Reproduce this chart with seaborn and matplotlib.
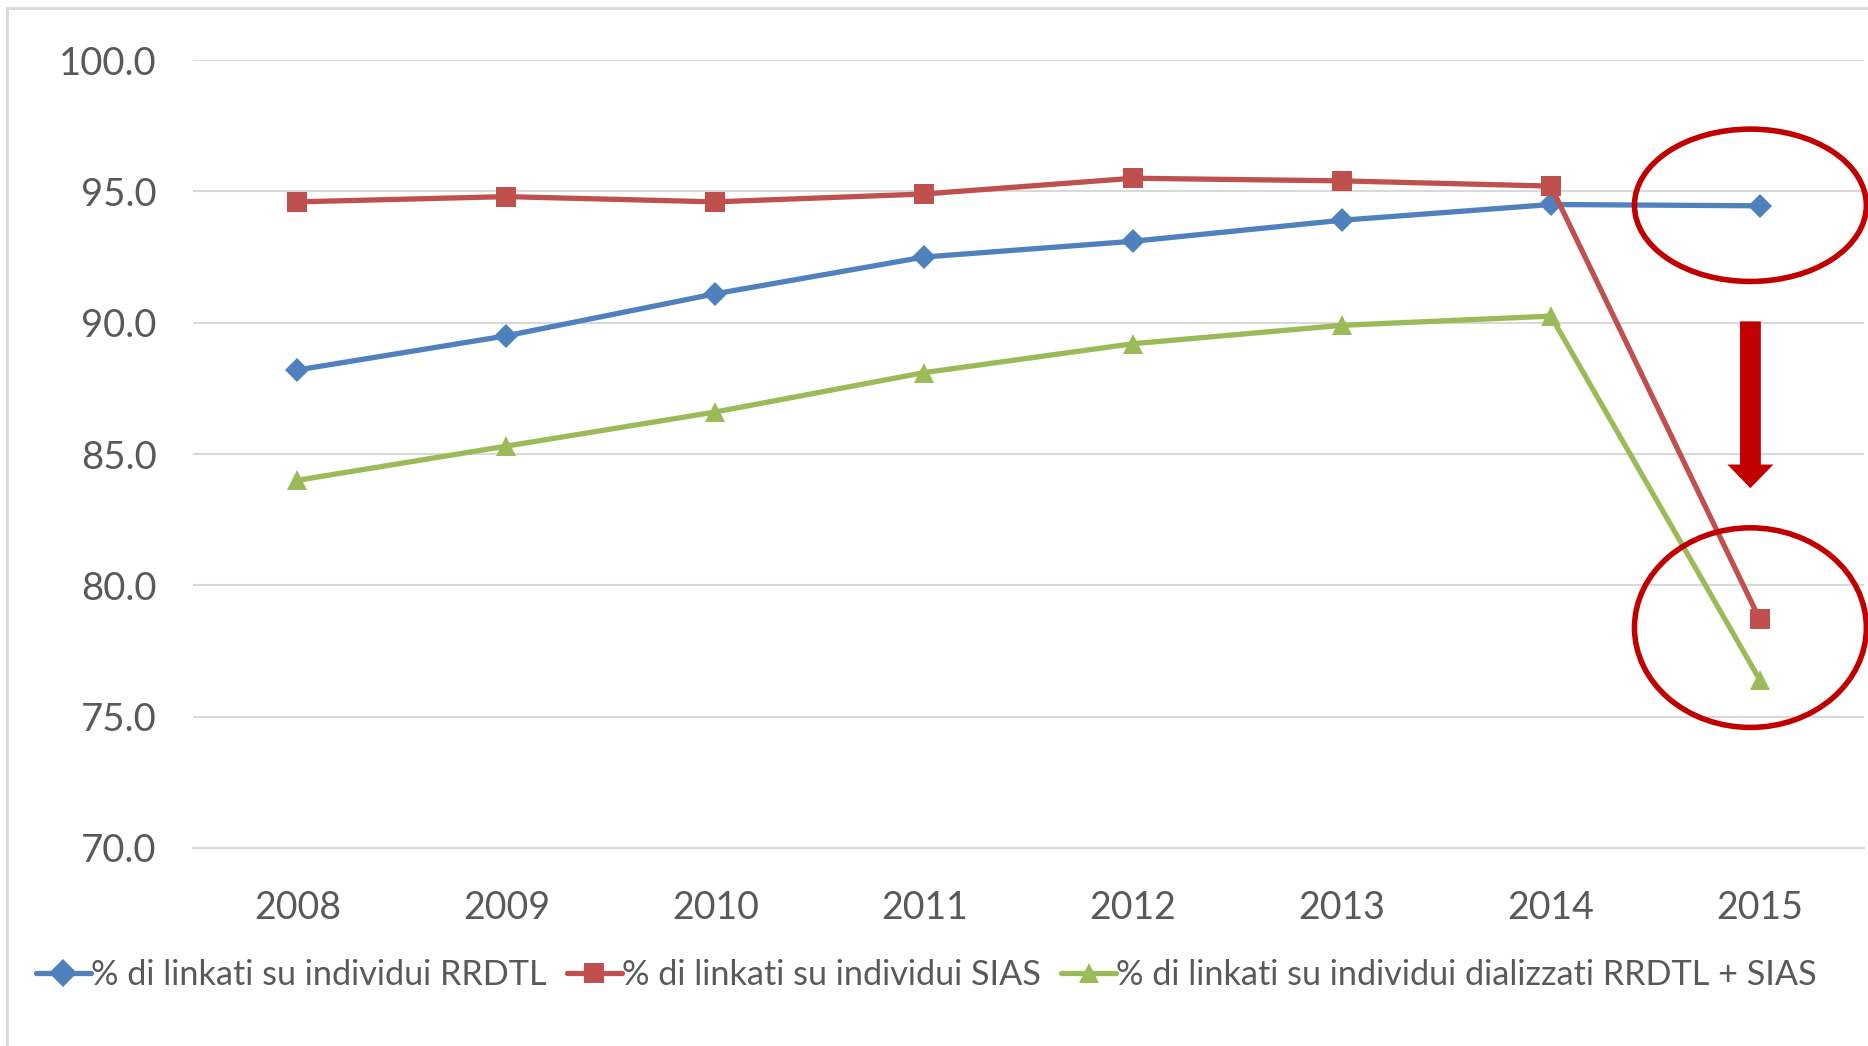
import pandas as pd
import matplotlib.pyplot as plt
import seaborn as sns
from matplotlib.patches import Ellipse, Rectangle, FancyArrow

# --- data ---
years = [2008, 2009, 2010, 2011, 2012, 2013, 2014, 2015]
rrdtl = [88.2, 89.5, 91.1, 92.5, 93.1, 93.9, 94.5, 94.45]
sias = [94.6, 94.8, 94.6, 94.9, 95.5, 95.4, 95.2, 78.7]
rrdtl_sias = [84.0, 85.3, 86.6, 88.1, 89.2, 89.9, 90.25, 76.4]

labels = [
    '% di linkati su individui RRDTL',
    '% di linkati su individui SIAS',
    '% di linkati su individui dializzati RRDTL + SIAS',
]
colors = ['#4F81BD', '#C0504D', '#9BBB59']
markers = ['D', 's', '^']
y_ticks = [70, 75, 80, 85, 90, 95, 100]

df = pd.DataFrame({'Anno': years, labels[0]: rrdtl, labels[1]: sias, labels[2]: rrdtl_sias})
long_df = df.melt(id_vars='Anno', var_name='Serie', value_name='Valore')

sns.set_style('white')
plt.rcParams['font.family'] = ['Lato', 'DejaVu Sans']
text_grey = '#595959'
grid_grey = '#D9D9D9'

fig = plt.figure(figsize=(18.68, 10.46), dpi=100)
ax = fig.add_axes([0.1033, 0.1893, 0.8947, 0.7533])

sns.lineplot(data=long_df, x='Anno', y='Valore', hue='Serie', style='Serie',
             hue_order=labels, style_order=labels,
             palette=dict(zip(labels, colors)), markers=dict(zip(labels, markers)),
             dashes=False, linewidth=3.8, markersize=14, markeredgewidth=0, ax=ax)
# slightly smaller diamonds, as in the reference
for line in ax.lines[:1]:
    line.set_markersize(12)

ax.set_xlim(2007.5, 2015.5)
ax.set_ylim(70, 100)
ax.set_yticks(y_ticks)
ax.set_yticklabels([f'{v:.1f}' for v in y_ticks])
ax.set_xticks(years)
ax.set_xticklabels([str(y) for y in years])
ax.set_xticks([y + 0.5 for y in [2007] + years], minor=True)
ax.set_xlabel('')
ax.set_ylabel('')
ax.yaxis.grid(True, color=grid_grey, linewidth=1.5)
ax.set_axisbelow(True)
for side in ['top', 'right', 'left']:
    ax.spines[side].set_visible(False)
ax.spines['bottom'].set_color(grid_grey)
ax.spines['bottom'].set_linewidth(1.5)
ax.tick_params(axis='y', length=0, labelsize=27.5, labelcolor=text_grey, pad=26)
ax.tick_params(axis='x', which='major', length=0, labelsize=27, labelcolor=text_grey, pad=30)
ax.tick_params(axis='x', which='minor', length=9, width=1.5, color=grid_grey, direction='out')

# highlight annotations
ax.add_patch(Ellipse((2014.955, 94.47), 1.11, 5.8, fill=False, edgecolor='#C00000',
                     linewidth=4, clip_on=False, zorder=5))
ax.add_patch(Ellipse((2014.955, 78.39), 1.11, 7.6, fill=False, edgecolor='#C00000',
                     linewidth=4, clip_on=False, zorder=5))
ax.add_patch(FancyArrow(2014.955, 90.05, 0, -6.35, width=0.1, head_width=0.22,
                        head_length=0.9, length_includes_head=True,
                        color='#C00000', linewidth=0, zorder=5))

leg = ax.legend(loc='center left', bbox_to_anchor=(-0.094, -0.161), ncol=3, frameon=False,
                fontsize=24.7, handlelength=1.6, handletextpad=0.0, columnspacing=0.6,
                borderaxespad=0, borderpad=0)
for t in leg.get_texts():
    t.set_color(text_grey)

# outer chart frame
fig.patches.append(Rectangle((0.0035, -0.01), 1.1, 1.0025, transform=fig.transFigure,
                             fill=False, edgecolor=grid_grey, linewidth=2))

fig.savefig('out.png', dpi=100)
